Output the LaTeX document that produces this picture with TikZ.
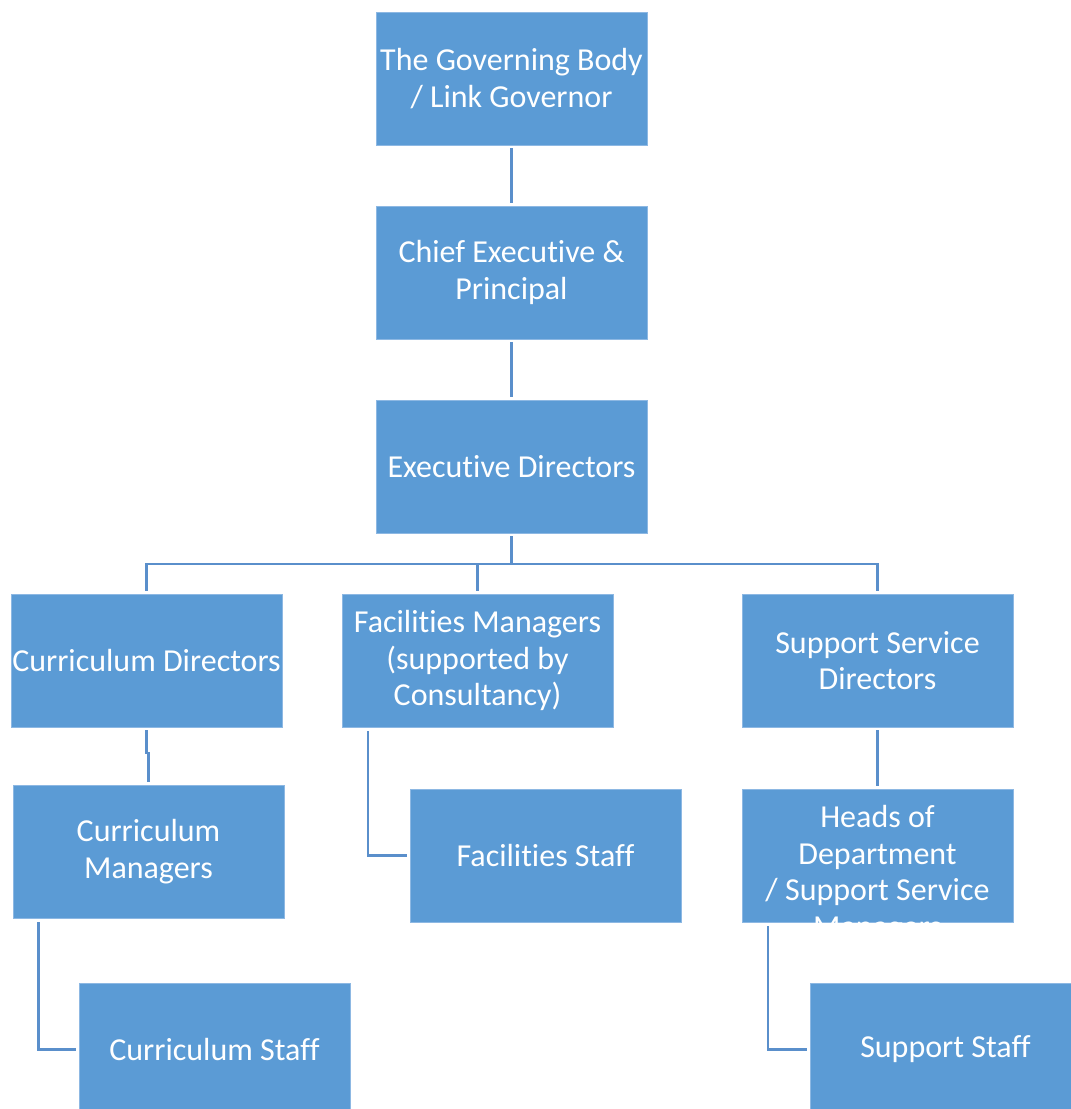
\documentclass[tikz,border=0pt]{standalone}
\usepackage{fontspec}
\setmainfont{Carlito}[Ligatures=NoCommon]
\definecolor{boxblue}{HTML}{5B9BD5}
\definecolor{boxedge}{HTML}{8DB8E3}
\definecolor{linecol}{HTML}{5A8FCB}
\begin{document}
\begin{tikzpicture}[x=1pt,y=-1pt,
  orgbox/.style={rectangle, fill=boxblue, draw=boxedge, line width=0.8pt,
    minimum width=271pt, minimum height=133pt, inner sep=0pt,
    text=white, align=center, font=\fontsize{32}{36.5}\selectfont},
  boxtext/.style={text=white, align=center, inner sep=0pt, font=\fontsize{32}{36.5}\selectfont},
  conn/.style={draw=linecol, line width=2.2pt}]
\useasboundingbox (0,0) rectangle (1071,1109);
\clip (0,0) rectangle (1071,1109);
\node[orgbox] (gov) at (511.5,78.5) {The Governing Body\\/ Link Governor};
\node[orgbox] (chief) at (511.5,272.5) {Chief Executive \&\\Principal};
\node[orgbox] (exec) at (511.5,466.5) {Executive Directors};
\node[orgbox] (cdir) at (146.5,660.5) {Curriculum Directors};
\node[orgbox] (fman) at (477.5,660.5) {Facilities Managers\\(supported by\\Consultancy)};
\node[orgbox] (ssd) at (877.5,660.5) {Support Service\\Directors};
\node[orgbox] (cman) at (148.5,851.5) {Curriculum\\Managers};
\node[orgbox] (fstaff) at (545.5,855.5) {Facilities Staff};
\node[orgbox] (heads) at (877.5,855.5) {};
\node[boxtext] (headstext) at (877.5,874) {Heads of\\Department\\/ Support Service\\Managers};
\node[orgbox] (cstaff) at (214.5,1049.5) {Curriculum Staff};
\node[orgbox] (sstaff) at (945.5,1049.5) {Support Staff};
% connectors
\draw[conn] ([yshift=-3pt]gov.south) -- ([yshift=3pt]chief.north);
\draw[conn] ([yshift=-3pt]chief.south) -- ([yshift=3pt]exec.north);
\coordinate (bus) at (511.5,564);
\coordinate (busmid) at (477.5,564);
\draw[conn] ([yshift=-3pt]exec.south) -- (bus) -| ([yshift=3pt]cdir.north);
\draw[conn] (bus) -| ([yshift=3pt]ssd.north);
\draw[conn] (busmid) -- ([yshift=3pt]fman.north);
\coordinate (jogA) at (146.5,753);
\coordinate (jogB) at (148.5,753);
\draw[conn] ([yshift=-3pt]cdir.south) -- (jogA) -- (jogB) -- ([yshift=3pt]cman.north);
\draw[conn] ([xshift=-110pt,yshift=-4pt]cman.south) |- ([xshift=-3pt]cstaff.west);
\draw[conn] ([xshift=-109.5pt,yshift=-4pt]fman.south) |- ([xshift=-3pt]fstaff.west);
\draw[conn] ([yshift=-3pt]ssd.south) -- ([yshift=3pt]heads.north);
\draw[conn] ([xshift=-109.5pt,yshift=-4pt]heads.south) |- ([xshift=-3pt]sstaff.west);
\end{tikzpicture}
\end{document}
